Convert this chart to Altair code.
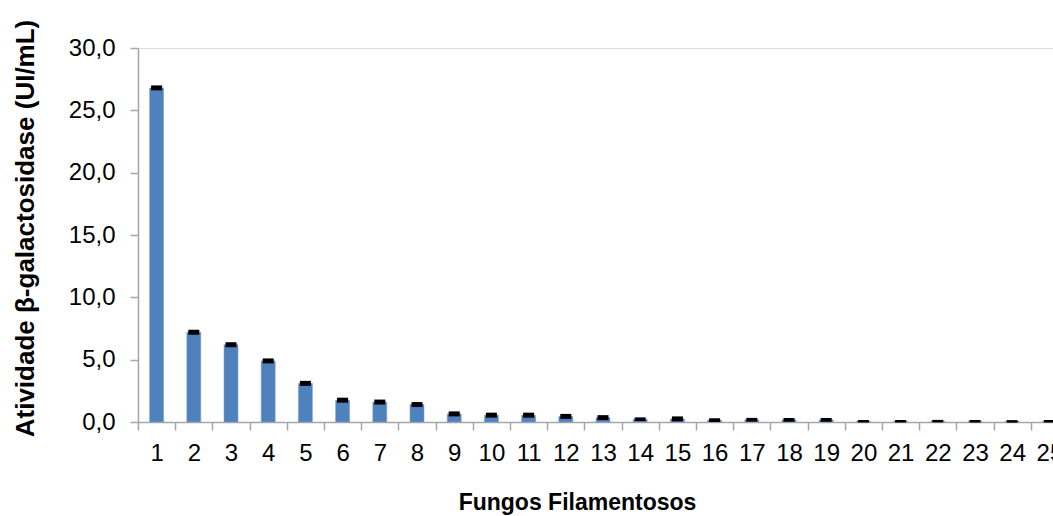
import altair as alt
import pandas as pd

fungos = [str(i) for i in range(1, 26)]
atividade = [26.8, 7.2, 6.2, 4.9, 3.1, 1.75, 1.6, 1.4, 0.65, 0.55, 0.55, 0.45, 0.35,
             0.22, 0.25, 0.15, 0.18, 0.17, 0.17, 0.06, 0.06, 0.07, 0.06, 0.05, 0.06]
erro = [0.2, 0.2, 0.2, 0.2, 0.2, 0.2, 0.2, 0.2, 0.2, 0.2, 0.2, 0.2, 0.2,
        0.15, 0.2, 0.15, 0.15, 0.15, 0.15, 0.1, 0.1, 0.1, 0.1, 0.1, 0.1]
y_ticks = [0, 5, 10, 15, 20, 25, 30]

df = pd.DataFrame({"fungo": fungos, "valor": atividade, "erro": erro})
df["lo"] = df["valor"] - df["erro"]
df["hi"] = df["valor"] + df["erro"]

FONT = "Liberation Sans"
GREY = "#A6A6A6"

x_scale = alt.Scale(paddingInner=0, paddingOuter=0, range=[0, 930])

x_enc = alt.X("fungo:N", sort=fungos, scale=x_scale,
              axis=alt.Axis(title="Fungos Filamentosos", labelAngle=0,
                            tickBand="extent", tickSize=8, tickColor=GREY,
                            domainColor=GREY, domainWidth=1.5, tickWidth=1.5,
                            labelFont=FONT, labelFontSize=24, labelColor="black",
                            labelPadding=11, labelOverlap=False, labelBaseline="top",
                            labelBound=False, labelFlush=False,
                            titleFont=FONT, titleFontSize=23, titleFontWeight="bold",
                            titleColor="black", titleX=439, titleY=87,
                            titleAlign="center", titleBaseline="alphabetic"))

y_axis = alt.Axis(title="Atividade β-galactosidase (UI/mL)", values=y_ticks,
                  labelExpr="replace(format(datum.value, '.1f'), '.', ',')",
                  tickSize=8, tickColor=GREY, domainColor=GREY, domainWidth=1.5,
                  tickWidth=1.5, grid=False,
                  labelFont=FONT, labelFontSize=24, labelColor="black", labelPadding=15,
                  titleFont=FONT, titleFontSize=26, titleFontWeight="bold",
                  titleColor="black", titleAngle=270, titleAlign="center",
                  titleBaseline="alphabetic", titleY=180, titleX=-105)

bars = alt.Chart(df).mark_bar(size=14, color="#4F81BD", stroke="#7FA3D3",
                              strokeWidth=0.6).encode(
    x=x_enc,
    y=alt.Y("valor:Q", scale=alt.Scale(domain=[0, 30]), axis=y_axis),
)

caps = alt.Chart(df).mark_bar(size=11, color="black").encode(
    x=alt.X("fungo:N", sort=fungos),
    y="lo:Q",
    y2="hi:Q",
)

chart = alt.layer(bars, caps).properties(
    width=915, height=374,
    autosize=alt.AutoSizeParams(type="none"),
    padding={"left": 138, "top": 48, "right": 0, "bottom": 94},
).configure_view(stroke=None).configure(background="white")

chart.save("out.html", embed_options={"renderer": "svg", "actions": False})
